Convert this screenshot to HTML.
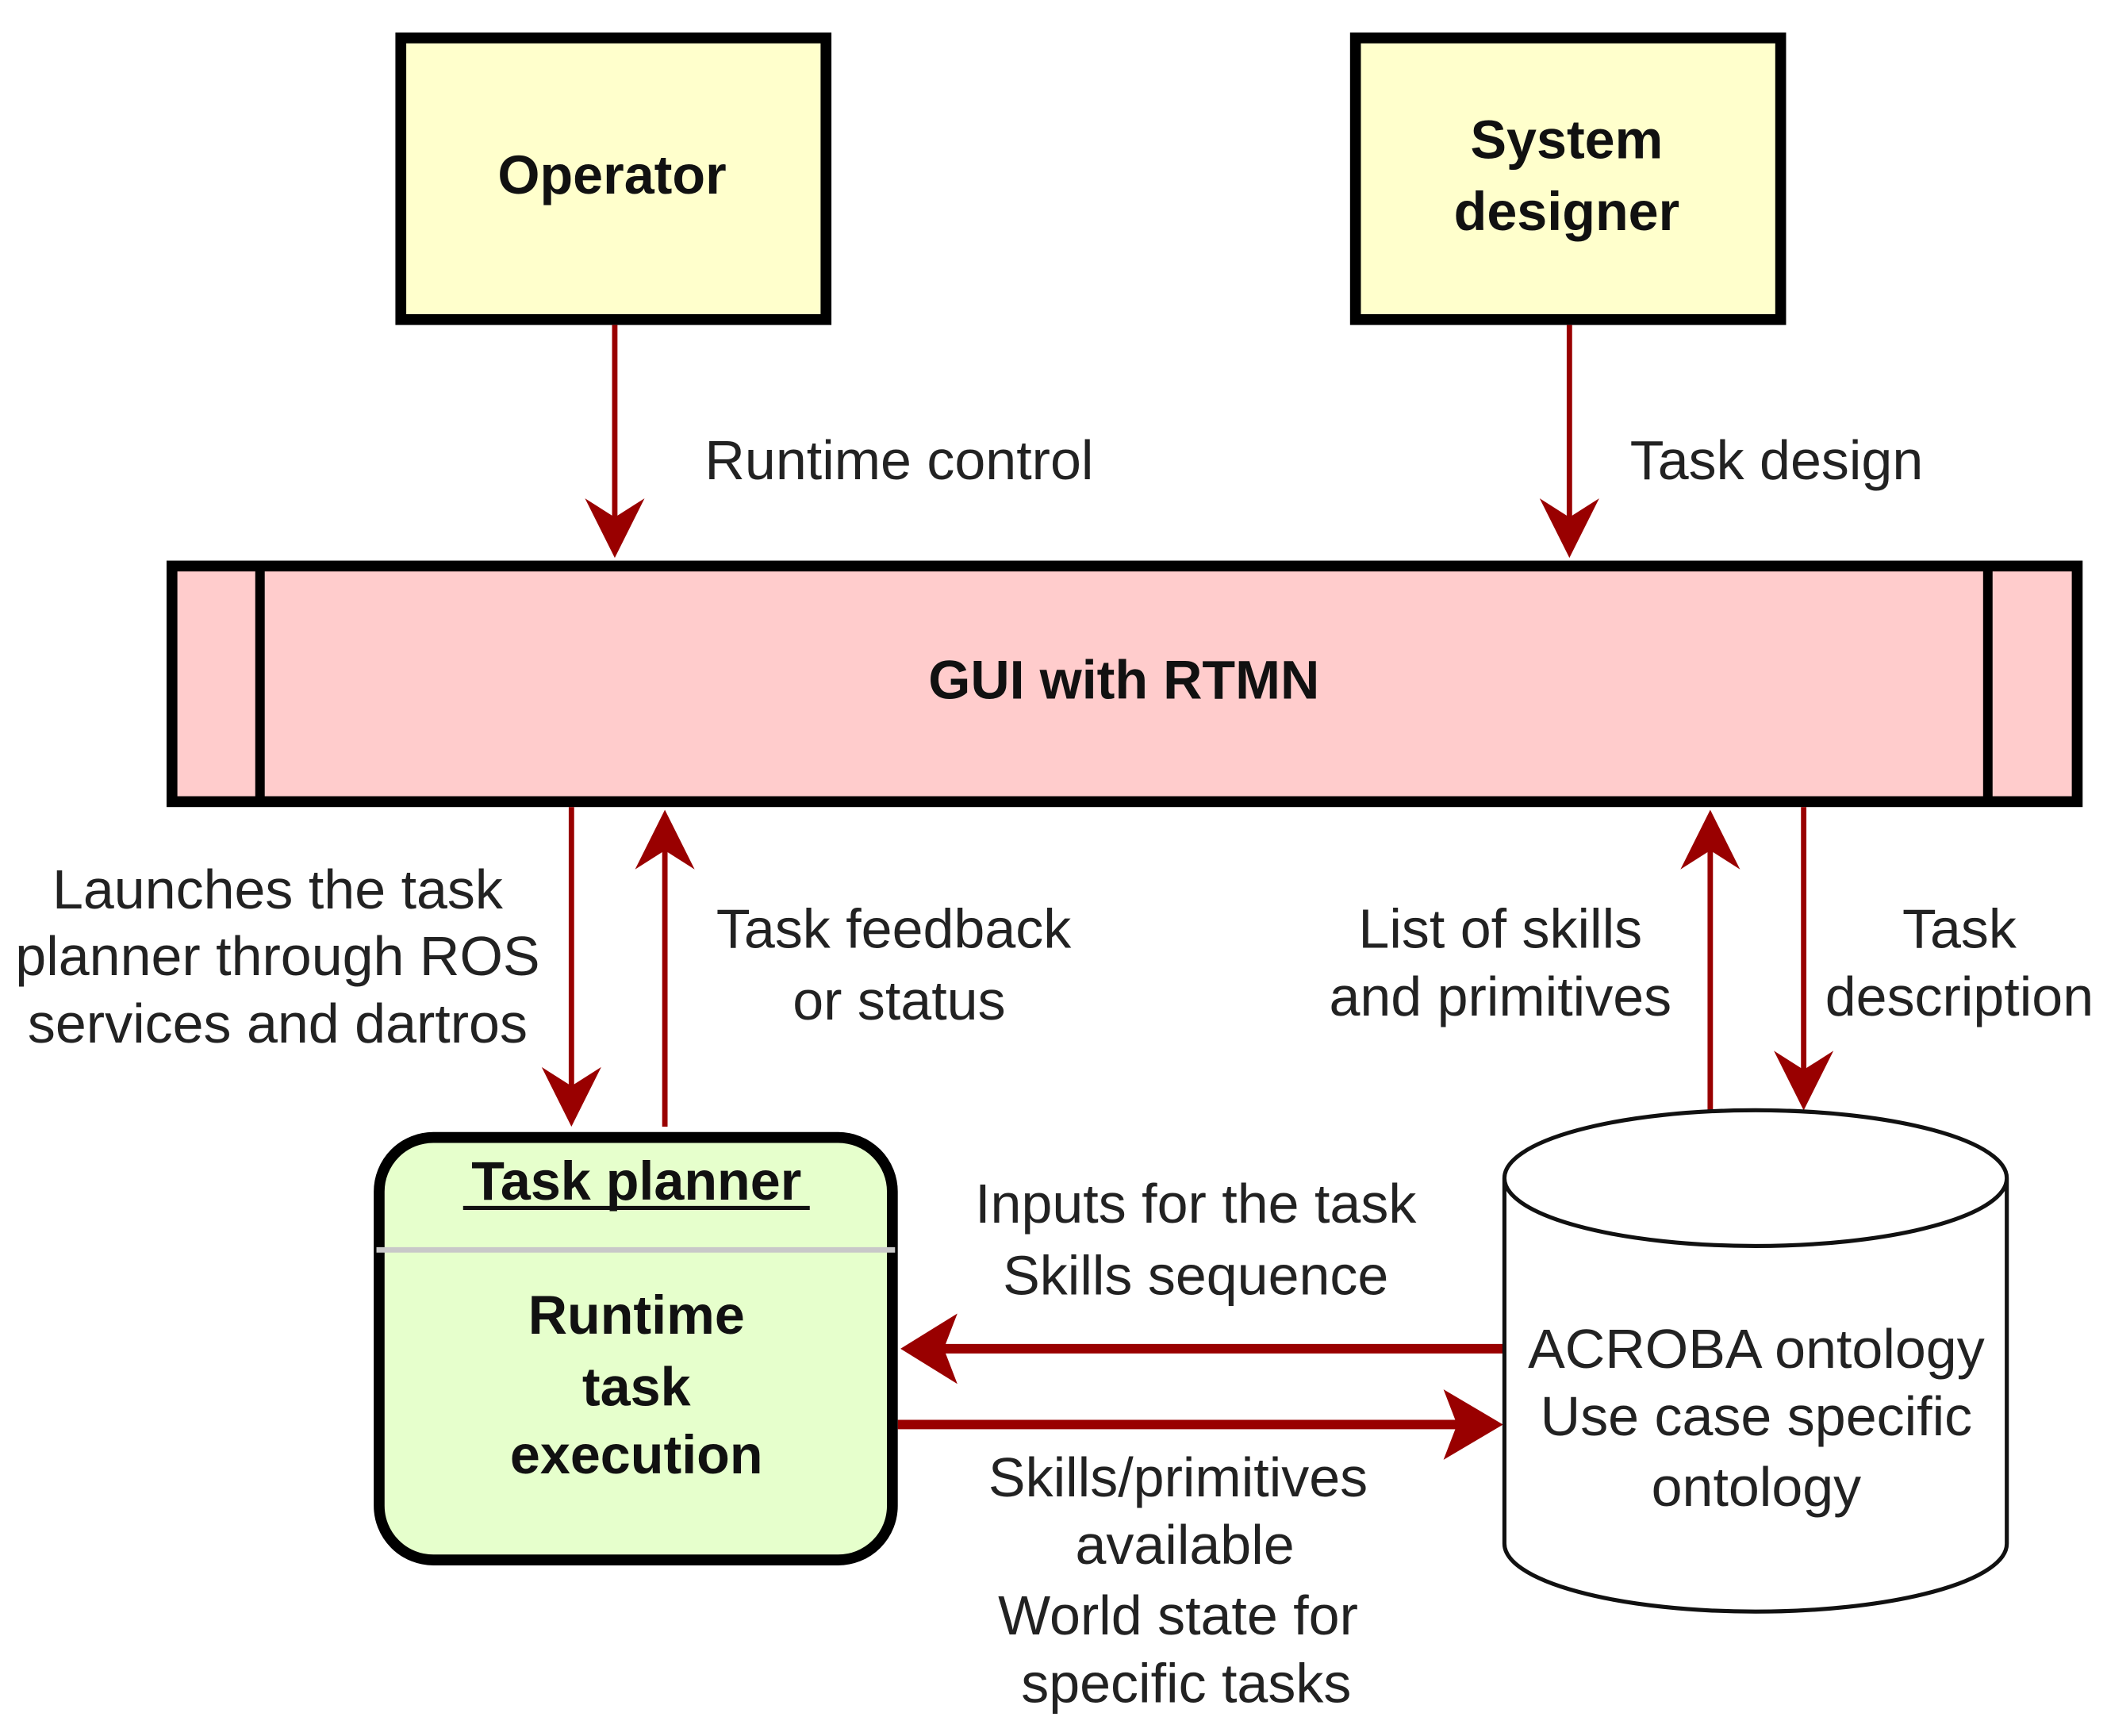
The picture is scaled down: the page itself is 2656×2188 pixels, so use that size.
<!DOCTYPE html>
<html><head><style>html,body{margin:0;padding:0;background:#fff}svg{display:block}</style></head><body>
<svg width="2656" height="2188" viewBox="0 0 1556 1282" preserveAspectRatio="none" xmlns="http://www.w3.org/2000/svg" font-family="Liberation Sans, sans-serif">
<rect x="296" y="28" width="314" height="208" fill="#ffffcc" stroke="#000" stroke-width="8"/>
<rect x="1001" y="28" width="314" height="208" fill="#ffffcc" stroke="#000" stroke-width="8"/>
<text x="452" y="143" font-size="40" font-weight="bold" text-anchor="middle" fill="#111">Operator</text>
<text x="1157" y="117" font-size="40" font-weight="bold" text-anchor="middle" fill="#111">System</text>
<text x="1157" y="170" font-size="40" font-weight="bold" text-anchor="middle" fill="#111">designer</text>
<rect x="127" y="418" width="1407" height="174" fill="#ffcccc" stroke="#000" stroke-width="8"/>
<line x1="192" y1="418" x2="192" y2="592" stroke="#000" stroke-width="7"/>
<line x1="1468" y1="418" x2="1468" y2="592" stroke="#000" stroke-width="7"/>
<text x="830" y="516" font-size="40" font-weight="bold" text-anchor="middle" fill="#111">GUI with RTMN</text>
<g stroke="#990000" stroke-width="4" fill="none">
<line x1="454" y1="240" x2="454" y2="400"/>
<line x1="1159" y1="240" x2="1159" y2="400"/>
<line x1="422" y1="596" x2="422" y2="820"/>
<line x1="491" y1="832" x2="491" y2="610"/>
<line x1="1263" y1="820" x2="1263" y2="610"/>
<line x1="1332" y1="596" x2="1332" y2="808"/>
<line x1="1111" y1="996" x2="685" y2="996" stroke-width="7"/>
<line x1="663" y1="1052" x2="1088" y2="1052" stroke-width="7"/>
</g>
<g fill="#990000">
<polygon points="454,412 432,368 454,382 476,368"/>
<polygon points="1159,412 1137,368 1159,382 1181,368"/>
<polygon points="422,832 400,788 422,802 444,788"/>
<polygon points="491,598 469,642 491,628 513,642"/>
<polygon points="1263,598 1241,642 1263,628 1285,642"/>
<polygon points="1332,820 1310,776 1332,790 1354,776"/>
<polygon points="665,996 707,970 697,996 707,1022"/>
<polygon points="1110,1052 1066,1026 1076,1052 1066,1078"/>
</g>
<g font-size="41" fill="#222" text-anchor="middle">
<text x="664" y="354">Runtime control</text>
<text x="1312" y="354">Task design</text>
<text x="205" y="671">Launches the task</text>
<text x="205" y="720">planner through ROS</text>
<text x="205" y="770">services and dartros</text>
<text x="660" y="700">Task feedback</text>
<text x="664" y="753">or status</text>
<text x="1108" y="700">List of skills</text>
<text x="1108" y="750">and primitives</text>
<text x="1447" y="700">Task</text>
<text x="1447" y="750">description</text>
<text x="883" y="903">Inputs for the task</text>
<text x="883" y="956">Skills sequence</text>
<text x="870" y="1105">Skills/primitives</text>
<text x="875" y="1155">available</text>
<text x="870" y="1207">World state for</text>
<text x="876" y="1257">specific tasks</text>
<text x="1297" y="1010">ACROBA ontology</text>
<text x="1297" y="1060">Use case specific</text>
<text x="1297" y="1112">ontology</text>
</g>
<rect x="280" y="840" width="379" height="312" rx="40" fill="#e6ffcc" stroke="#000" stroke-width="8"/>
<line x1="278" y1="923" x2="661" y2="923" stroke="#c8c8c8" stroke-width="4"/>
<text x="470" y="886" font-size="40" font-weight="bold" text-anchor="middle" fill="#111">Task planner</text>
<line x1="342" y1="892" x2="598" y2="892" stroke="#111" stroke-width="3"/>
<text x="470" y="985" font-size="40" font-weight="bold" text-anchor="middle" fill="#111">Runtime</text>
<text x="470" y="1038" font-size="40" font-weight="bold" text-anchor="middle" fill="#111">task</text>
<text x="470" y="1088" font-size="40" font-weight="bold" text-anchor="middle" fill="#111">execution</text>
<path d="M1111,870 L1111,1140 A185,50 0 0 0 1482,1140 L1482,870 A185,50 0 0 0 1111,870 A185,50 0 0 0 1482,870" fill="none" stroke="#111" stroke-width="3"/>
</svg>
</body></html>
